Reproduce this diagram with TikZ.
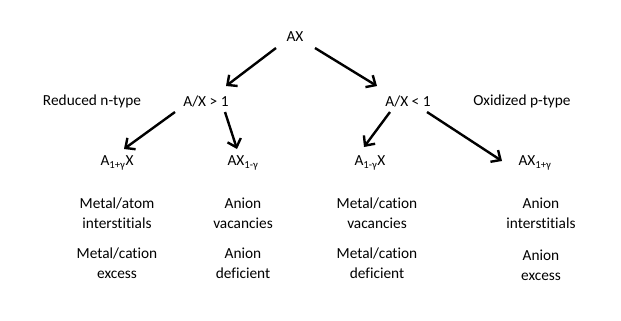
\documentclass[tikz,border=0pt]{standalone}
\usepackage{fontspec}
\setmainfont{Carlito}[Ligatures=NoCommon]
\usepackage{tikz}
\usetikzlibrary{positioning, arrows.meta}

\begin{document}
\begin{tikzpicture}[
  x=1bp, y=-1bp,
  font=\fontsize{15.4}{20}\selectfont,
  >={Straight Barb[length=7.5bp,width=14bp]},
  term/.style={inner sep=2pt, align=center},
  cond/.style={term},
  leaf/.style={term},
  desc/.style={term, align=center},
  link/.style={->, line width=2.4bp},
]
\useasboundingbox (0,0) rectangle (621,320);

\node[term] (ax) at (295,37) {AX};

\node[cond] (gt) at (206,101) {A/X > 1};
\node[cond] (lt) at (408,101) {A/X < 1};
\node[term] (red) at (92,101) {Reduced n-type};
\node[term] (oxi) at (522,101) {Oxidized p-type};

\node[leaf] (a1) at (117,163) {A\textsubscript{1+γ}X};
\node[leaf] (b1) at (243,163) {AX\textsubscript{1-γ}};
\node[leaf] (a2) at (370,163) {A\textsubscript{1-γ}X};
\node[leaf] (b2) at (535,163) {AX\textsubscript{1+γ}};

% defect type and composition under each branch
\node[desc] (a1def) at (117,213) {Metal/atom\\interstitials};
\node[desc] (a1cmp) at (117,263) {Metal/cation\\excess};
\node[desc] (b1def) at (243,213) {Anion\\vacancies};
\node[desc] (b1cmp) at (243,263) {Anion\\deficient};
\node[desc] (a2def) at (377,213) {Metal/cation\\vacancies};
\node[desc] (a2cmp) at (377,263) {Metal/cation\\deficient};
\node[desc] (b2def) at (541,213) {Anion\\interstitials};
\node[desc] (b2cmp) at (541,265) {Anion\\excess};

\draw[link] ([shift={(-19,11)}]ax.center) -- ([shift={(20,-15)}]gt.center);
\draw[link] ([shift={(20,11)}]ax.center)  -- ([shift={(-31,-15)}]lt.center);
\draw[link] ([shift={(-31,11)}]gt.center) -- ([shift={(7,-14)}]a1.center);
\draw[link] ([shift={(19,11)}]gt.center)  -- ([shift={(-6,-14)}]b1.center);
\draw[link] ([shift={(-18,11)}]lt.center) -- ([shift={(-6,-16)}]a2.center);
\draw[link] ([shift={(19,11)}]lt.center)  -- ([shift={(-33,-2)}]b2.center);

\end{tikzpicture}
\end{document}
